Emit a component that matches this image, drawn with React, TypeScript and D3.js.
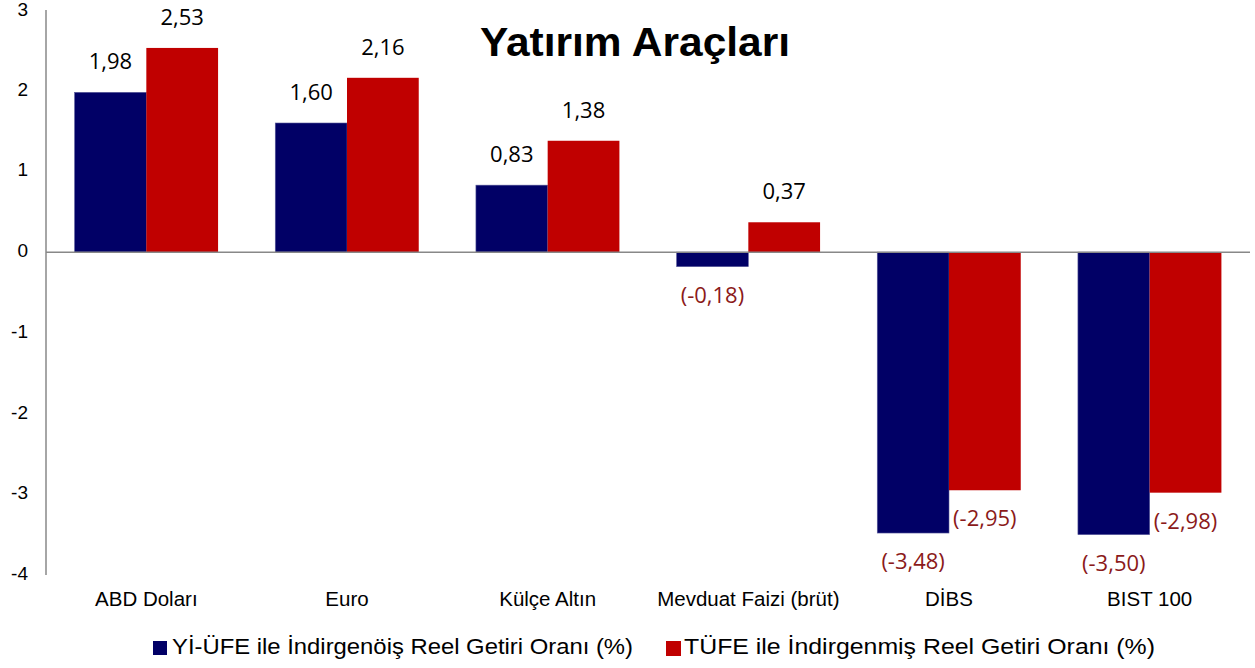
import React from "react";
import * as d3 from "d3";

const categories = ["ABD Doları", "Euro", "Külçe Altın", "Mevduat Faizi (brüt)", "DİBS", "BIST 100"];
const yiufeValues = [1.98, 1.6, 0.83, -0.18, -3.48, -3.5];
const tufeValues = [2.53, 2.16, 1.38, 0.37, -2.95, -2.98];
const seriesNames = [
  "Yİ-ÜFE ile İndirgenöiş Reel Getiri Oranı (%)",
  "TÜFE ile İndirgenmiş Reel Getiri Oranı (%)",
];
const yTicks = [3, 2, 1, 0, -1, -2, -3, -4];
const title = "Yatırım Araçları";

const W = 1255;
const H = 668;
const colors = ["#010066", "#C00000"];
const negColor = "#8B1A1A";
const arial = "Liberation Sans, Arial, sans-serif";

const fmt = (v: number) => {
  const s = Math.abs(v).toFixed(2).replace(".", ",");
  return v < 0 ? `(-${s})` : s;
};

export default function App() {
  const left = 46;
  const right = 1250;
  const y = d3.scaleLinear().domain([-4, 3]).range([575, 10]);
  const x0 = d3.scaleBand<string>().domain(categories).range([left, right]).paddingInner(0.285).paddingOuter(0.1425);
  const series = [yiufeValues, tufeValues];
  const x1 = d3.scaleBand<number>().domain([0, 1]).range([0, x0.bandwidth()]);

  return (
    <svg width={W} height={H} style={{ position: "absolute", left: 0, top: 0 }}>
      <rect width={W} height={H} fill="#fff" />
      <line x1={left} x2={left} y1={y(3)} y2={y(-4)} stroke="#888" strokeWidth={1.5} />
      {yTicks.map((t) => (
        <text key={t} x={28} y={Math.max(y(t), 11)} textAnchor="end" dominantBaseline="middle"
          fontFamily={arial} fontSize={19} fill="#000">
          {t}
        </text>
      ))}
      {series.map((vals, si) =>
        vals.map((v, i) => {
          const bx = (x0(categories[i]) as number) + (x1(si) as number);
          const top = y(Math.max(0, v));
          const h = Math.abs(y(v) - y(0));
          return (
            <rect key={`${si}-${i}`} x={bx} y={top} width={x1.bandwidth()} height={h}
              fill={colors[si]} stroke={si === 0 ? "#5a5a9a" : "none"} strokeWidth={si === 0 ? 0.6 : 0} />
          );
        })
      )}
      <line x1={left} x2={right} y1={y(0)} y2={y(0)} stroke="#888" strokeWidth={1.5} />
      {series.map((vals, si) =>
        vals.map((v, i) => {
          const cx = (x0(categories[i]) as number) + (x1(si) as number) + x1.bandwidth() / 2;
          const ly = v >= 0 ? y(v) - 29 : y(v) + 30;
          return (
            <text key={`l-${si}-${i}`} x={cx} y={ly} textAnchor="middle" dominantBaseline="middle"
              fontFamily="Open Sans, Noto Sans, sans-serif" fontSize={22}
              fill={v < 0 ? negColor : "#000"}>
              {fmt(v)}
            </text>
          );
        })
      )}
      {categories.map((c) => (
        <text key={c} x={(x0(c) as number) + x0.bandwidth() / 2} y={601} textAnchor="middle"
          dominantBaseline="middle" fontFamily={arial} fontSize={20.5}>
          {c}
        </text>
      ))}
      <text x={480} y={45} dominantBaseline="middle" textLength={310} lengthAdjust="spacingAndGlyphs"
        fontFamily={arial} fontSize={40} fontWeight="bold">
        {title}
      </text>
      <rect x={153} y={641} width={14} height={14} fill={colors[0]} />
      <text x={172} y={648.5} dominantBaseline="middle" textLength={461} lengthAdjust="spacingAndGlyphs"
        fontFamily={arial} fontSize={22}>
        {seriesNames[0]}
      </text>
      <rect x={666} y={641} width={15} height={15} fill={colors[1]} />
      <text x={684} y={648.5} dominantBaseline="middle" textLength={471} lengthAdjust="spacingAndGlyphs"
        fontFamily={arial} fontSize={22}>
        {seriesNames[1]}
      </text>
    </svg>
  );
}
